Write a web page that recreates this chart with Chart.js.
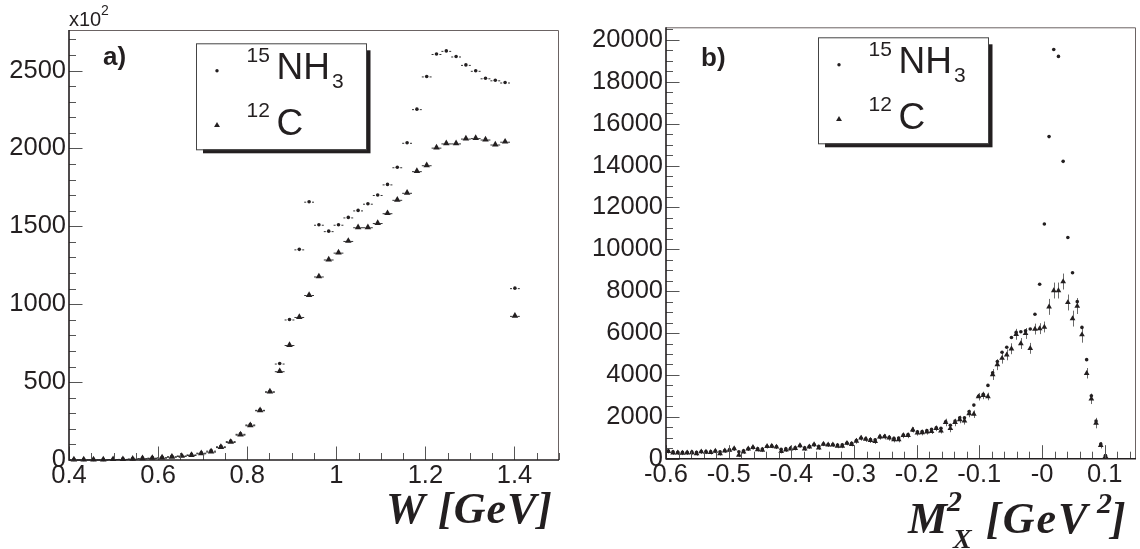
<!DOCTYPE html>
<html>
<head>
<meta charset="utf-8">
<script src="https://cdn.jsdelivr.net/npm/chart.js@4.4.1/dist/chart.umd.min.js"></script>
<style>
  body { margin: 0; background: #fff; }
  #wrap { position: relative; width: 1140px; height: 549px; }
  canvas { position: absolute; top: 0; }
</style>
</head>
<body>
<div id="wrap">
  <canvas id="chartW" width="570" height="549" style="left:0"></canvas>
  <canvas id="chartMx" width="570" height="549" style="left:570px"></canvas>
</div>
<script>
// W spectrum: 50 bins from 0.4 to 1.5 GeV, counts in units of 10^2
const wBinLo = 0.4;
const wBinWidth = 0.022;
const wNH3 = [
    4, 4, 4, 4, 6, 7, 9, 12, 15, 18,
    24, 29, 36, 47, 60, 88, 121, 168, 228, 322,
    440, 619, 902, 1352, 1658, 1510, 1469, 1510, 1557, 1602,
    1645, 1701, 1769, 1879, 2036, 2252, 2462, 2606, 2626, 2590,
    2536, 2498, 2450, 2437, 2423, 1103
];
const wC = [
    3, 3, 3, 3, 5, 5, 8, 11, 13, 15,
    21, 26, 32, 43, 54, 83, 116, 163, 223, 319,
    439, 570, 738, 918, 1059, 1178, 1287, 1331, 1406, 1494,
    1494, 1521, 1584, 1670, 1715, 1854, 1892, 2005, 2032, 2032,
    2063, 2066, 2057, 2025, 2043, 925
];
const wTicksX = [0.4, 0.6, 0.8, 1, 1.2, 1.4];
const wTicksY = [0, 500, 1000, 1500, 2000, 2500];

// missing mass squared: 100 bins from -0.6 to 0.15 GeV^2
const mxBinLo = -0.6;
const mxBinWidth = 0.0075;
const mxNH3 = [
    370, 330, 310, 300, 310, 320, 300, 340, 340, 330,
    370, 330, 390, 420, 470, 330, 380, 470, 530, 470,
    460, 580, 600, 570, 450, 470, 500, 520, 620, 520,
    590, 670, 590, 700, 680, 680, 650, 660, 750, 740,
    870, 990, 950, 920, 900, 1040, 1060, 1020, 980, 990,
    1130, 1150, 1360, 1280, 1300, 1340, 1400, 1470, 1450, 1760,
    1600, 1800, 1950, 1950, 2250, 2560, 2980, 3080, 3500, 4100,
    4640, 5080, 5320, 5790, 6030, 6060, 6110, 6190, 6900, 8330,
    11210, 15380, 19540, 19210, 14200, 10560, 8880, 7500, 6270, 4730,
    3000, 1800, 700, 150
];
const mxC = [
    350, 285, 280, 270, 280, 290, 240, 335, 320, 300,
    365, 245, 375, 415, 485, 175, 325, 470, 540, 440,
    415, 590, 600, 560, 350, 420, 470, 495, 630, 470,
    565, 670, 520, 700, 660, 660, 600, 600, 740, 690,
    845, 990, 930, 880, 830, 1040, 1050, 990, 910, 910,
    1110, 1110, 1380, 1230, 1245, 1280, 1310, 1444, 1333, 1730,
    1444, 1730, 1873, 1810, 2159, 2127, 2960, 3020, 2970, 4020,
    4490, 4800, 4960, 5250, 5940, 5500, 5980, 5270, 6190, 6210,
    6290, 7250, 8030, 8030, 8460, 7460, 6690, 7290, 5920, 4080,
    2860, 1700, 640, 110
];
const mxCErr = [
    100, 100, 100, 100, 100, 100, 100, 100, 100, 100,
    100, 100, 100, 100, 100, 100, 100, 100, 100, 100,
    100, 100, 100, 100, 100, 100, 100, 100, 100, 100,
    100, 100, 100, 100, 100, 100, 100, 100, 100, 100,
    130, 130, 130, 130, 130, 130, 130, 130, 130, 130,
    130, 130, 130, 130, 130, 130, 130, 130, 130, 180,
    180, 180, 180, 180, 180, 180, 180, 180, 180, 260,
    260, 260, 260, 260, 260, 260, 260, 260, 260, 260,
    260, 380, 380, 380, 380, 380, 380, 380, 380, 250,
    250, 250, 150, 150
];
const mxTicksX = [-0.6, -0.5, -0.4, -0.3, -0.2, -0.1, 0, 0.1];
const mxTicksY = [0, 2000, 4000, 6000, 8000, 10000, 12000, 14000, 16000, 18000, 20000];

const wX = wC.map((_, i) => wBinLo + (i + 0.5) * wBinWidth);
const mxX = mxC.map((_, i) => mxBinLo + (i + 0.5) * mxBinWidth);

const ink = '#231f20';
const sans = '"Liberation Sans", Arial, sans-serif';
const serif = '"Liberation Serif", "Times New Roman", serif';

function toPoints(xs, ys) {
    return ys.map((v, i) => ({ x: xs[i], y: v }));
}

// horizontal (bin width) and vertical error bars, drawn under the markers
const errorBars = {
    id: 'errorBars',
    beforeDatasetsDraw(chart) {
        const ctx = chart.ctx;
        const xs = chart.scales.x, ys = chart.scales.y;
        chart.data.datasets.forEach(ds => {
            ctx.save();
            ctx.lineWidth = 1;
            ds.data.forEach((p, i) => {
                const px = xs.getPixelForValue(p.x);
                const py = ys.getPixelForValue(p.y);
                if (ds.errX) {
                    const l = xs.getPixelForValue(p.x - ds.errX);
                    const r = xs.getPixelForValue(p.x + ds.errX);
                    ctx.strokeStyle = '#333';
                    ctx.beginPath();
                    ctx.moveTo(l, py + 0.5); ctx.lineTo(px - ds.errGap, py + 0.5);
                    ctx.moveTo(px + ds.errGap, py + 0.5); ctx.lineTo(r, py + 0.5);
                    ctx.stroke();
                }
                if (ds.errY) {
                    const t = ys.getPixelForValue(p.y + ds.errY[i]);
                    const b = ys.getPixelForValue(Math.max(0, p.y - ds.errY[i]));
                    ctx.strokeStyle = '#6a6a6a';
                    ctx.beginPath();
                    ctx.moveTo(Math.round(px) + 0.5, t); ctx.lineTo(Math.round(px) + 0.5, b);
                    ctx.stroke();
                }
            });
            ctx.restore();
        });
    }
};

// ROOT style frame: ticks pointing inwards, thin grey top/right edges
const rootFrame = {
    id: 'rootFrame',
    afterDatasetsDraw(chart, args, opts) {
        const { ctx, chartArea: a } = chart;
        const xs = chart.scales.x, ys = chart.scales.y;
        ctx.save();
        ctx.strokeStyle = '#6b6363';
        ctx.lineWidth = 1;
        ctx.beginPath();
        ctx.moveTo(a.left, a.top + 0.5); ctx.lineTo(a.right - 0.5, a.top + 0.5);
        ctx.lineTo(a.right - 0.5, a.bottom);
        ctx.stroke();

        ctx.strokeStyle = '#555';
        ctx.beginPath();
        for (let v = xs.min; v <= xs.max + 1e-9; v += opts.xMinor) {
            const px = Math.round(xs.getPixelForValue(v)) + 0.5;
            ctx.moveTo(px, a.bottom); ctx.lineTo(px, a.bottom - 7);
        }
        for (let v = ys.min; v <= ys.max + 1e-9; v += opts.yMinor) {
            const py = Math.round(ys.getPixelForValue(v)) + 0.5;
            ctx.moveTo(a.left, py); ctx.lineTo(a.left + 7, py);
        }
        xs.ticks.forEach(t => {
            const px = Math.round(xs.getPixelForValue(t.value)) + 0.5;
            ctx.moveTo(px, a.bottom); ctx.lineTo(px, a.bottom - 13.5);
        });
        ys.ticks.forEach(t => {
            const py = Math.round(ys.getPixelForValue(t.value)) + 0.5;
            ctx.moveTo(a.left, py); ctx.lineTo(a.left + 13.5, py);
        });
        ctx.stroke();

        ctx.strokeStyle = ink;
        ctx.lineWidth = 1.6;
        ctx.beginPath();
        ctx.moveTo(a.left, a.top); ctx.lineTo(a.left, a.bottom); ctx.lineTo(a.right, a.bottom);
        ctx.stroke();
        ctx.restore();
    }
};

function drawLegend(ctx, bx, by) {
    const bw = 170, bh = 106;
    ctx.save();
    ctx.fillStyle = ink;
    ctx.fillRect(bx + 7, by + 7, bw - 2.5, bh - 3);
    ctx.fillStyle = '#fff';
    ctx.fillRect(bx, by, bw, bh);
    ctx.strokeStyle = '#444';
    ctx.lineWidth = 1;
    ctx.strokeRect(bx + 0.5, by + 0.5, bw, bh);

    ctx.fillStyle = ink;
    ctx.beginPath();
    ctx.arc(bx + 21, by + 27.5, 1.7, 0, Math.PI * 2);
    ctx.fill();
    const tx = bx + 21, ty = by + 82, r = 3.4;
    ctx.beginPath();
    ctx.moveTo(tx, ty - r);
    ctx.lineTo(tx + 0.866 * r, ty + 0.5 * r);
    ctx.lineTo(tx - 0.866 * r, ty + 0.5 * r);
    ctx.closePath();
    ctx.fill();

    ctx.textBaseline = 'alphabetic';
    ctx.textAlign = 'left';
    ctx.font = '21px ' + sans;
    ctx.fillText('15', bx + 50.5, by + 18.5);
    ctx.fillText('12', bx + 50.5, by + 74);
    ctx.font = '37px ' + sans;
    ctx.fillText('NH', bx + 80.5, by + 35.5);
    ctx.fillText('C', bx + 80.5, by + 92);
    ctx.font = '21px ' + sans;
    ctx.fillText('3', bx + 136, by + 44.7);
    ctx.restore();
}

function tickFont() {
    return { family: sans, size: 25.5 };
}

const leftText = {
    id: 'leftText',
    afterDraw(chart) {
        const ctx = chart.ctx;
        ctx.save();
        ctx.fillStyle = ink;
        ctx.font = '20px ' + sans;
        ctx.fillText('x10', 69, 26);
        ctx.font = '14px ' + sans;
        ctx.fillText('2', 101, 15);
        ctx.font = 'bold 26px ' + sans;
        ctx.fillText('a)', 103, 65);
        ctx.font = 'italic bold 44px ' + serif;
        ctx.textAlign = 'right';
        ctx.letterSpacing = '1px';
        ctx.fillText('W [GeV]', 553, 523);
        ctx.restore();
        drawLegend(ctx, 196, 43.3);
    }
};

const rightText = {
    id: 'rightText',
    afterDraw(chart) {
        const ctx = chart.ctx;
        ctx.save();
        ctx.fillStyle = ink;
        ctx.font = 'bold 26px ' + sans;
        ctx.fillText('b)', 131, 66);
        ctx.font = 'italic bold 44px ' + serif;
        ctx.fillText('M', 338, 533);
        ctx.fillText(']', 541, 533);
        ctx.letterSpacing = '2px';
        ctx.fillText('[GeV', 416, 533);
        ctx.letterSpacing = '0px';
        ctx.font = 'italic bold 30px ' + serif;
        ctx.fillText('2', 377, 511);
        ctx.fillText('2', 527, 513);
        ctx.font = 'italic bold 28px ' + serif;
        ctx.fillText('X', 383, 548);
        ctx.restore();
        drawLegend(ctx, 248, 37.3);
    }
};

function fixedTicks(values) {
    return s => { s.ticks = values.map(v => ({ value: v })); };
}

function makePanel(canvasId, cfg) {
    return new Chart(document.getElementById(canvasId), {
        type: 'scatter',
        data: {
            datasets: [{
                label: '15NH3',
                data: toPoints(cfg.xs, cfg.nh3),
                pointStyle: 'circle',
                pointRadius: 1.8,
                backgroundColor: ink,
                borderWidth: 0,
                clip: false,
                errX: cfg.errX,
                errGap: 2.9
            }, {
                label: '12C',
                data: toPoints(cfg.xs, cfg.c),
                pointStyle: 'triangle',
                pointRadius: cfg.triR,
                backgroundColor: ink,
                borderWidth: 0,
                clip: false,
                errX: cfg.errX,
                errGap: 2.4,
                errY: cfg.cErr
            }]
        },
        options: {
            responsive: false,
            animation: false,
            events: [],
            layout: { padding: cfg.padding },
            plugins: {
                legend: { display: false },
                tooltip: { enabled: false },
                rootFrame: { xMinor: cfg.xMinor, yMinor: cfg.yMinor }
            },
            scales: {
                x: {
                    type: 'linear',
                    min: cfg.xMin, max: cfg.xMax,
                    grid: { display: false, drawTicks: false },
                    border: { display: false },
                    afterBuildTicks: fixedTicks(cfg.ticksX),
                    ticks: {
                        autoSkip: false, maxRotation: 0,
                        padding: 1, color: ink, font: tickFont(), callback: cfg.xFmt
                    },
                    afterFit: s => { s.height = cfg.xAxisH; }
                },
                y: {
                    type: 'linear',
                    min: 0, max: cfg.yMax,
                    grid: { display: false, drawTicks: false },
                    border: { display: false },
                    afterBuildTicks: fixedTicks(cfg.ticksY),
                    ticks: {
                        autoSkip: false,
                        padding: 3, color: ink, font: tickFont(), callback: v => String(v)
                    },
                    afterFit: s => { s.width = cfg.yAxisW; }
                }
            }
        },
        plugins: [errorBars, rootFrame, cfg.text]
    });
}

makePanel('chartW', {
    xs: wX, nh3: wNH3, c: wC, cErr: null,
    errX: wBinWidth / 2, triR: 3.8,
    xMin: 0.4, xMax: 1.5, ticksX: wTicksX, xMinor: 0.05,
    yMax: 2760, ticksY: wTicksY, yMinor: 100,
    xFmt: v => String(v),
    padding: { left: 0, top: 30, right: 11, bottom: 0 },
    yAxisW: 69, xAxisH: 89,
    text: leftText
});

makePanel('chartMx', {
    xs: mxX, nh3: mxNH3, c: mxC, cErr: mxCErr,
    errX: 0, triR: 3.3,
    xMin: -0.6, xMax: 0.15, ticksX: mxTicksX, xMinor: 0.02,
    yMax: 20600, ticksY: mxTicksY, yMinor: 500,
    xFmt: v => (v === 0 ? '-0' : String(v)),
    padding: { left: 0, top: 27.3, right: 1.5, bottom: 0 },
    yAxisW: 96, xAxisH: 90.3,
    text: rightText
});
</script>
</body>
</html>
